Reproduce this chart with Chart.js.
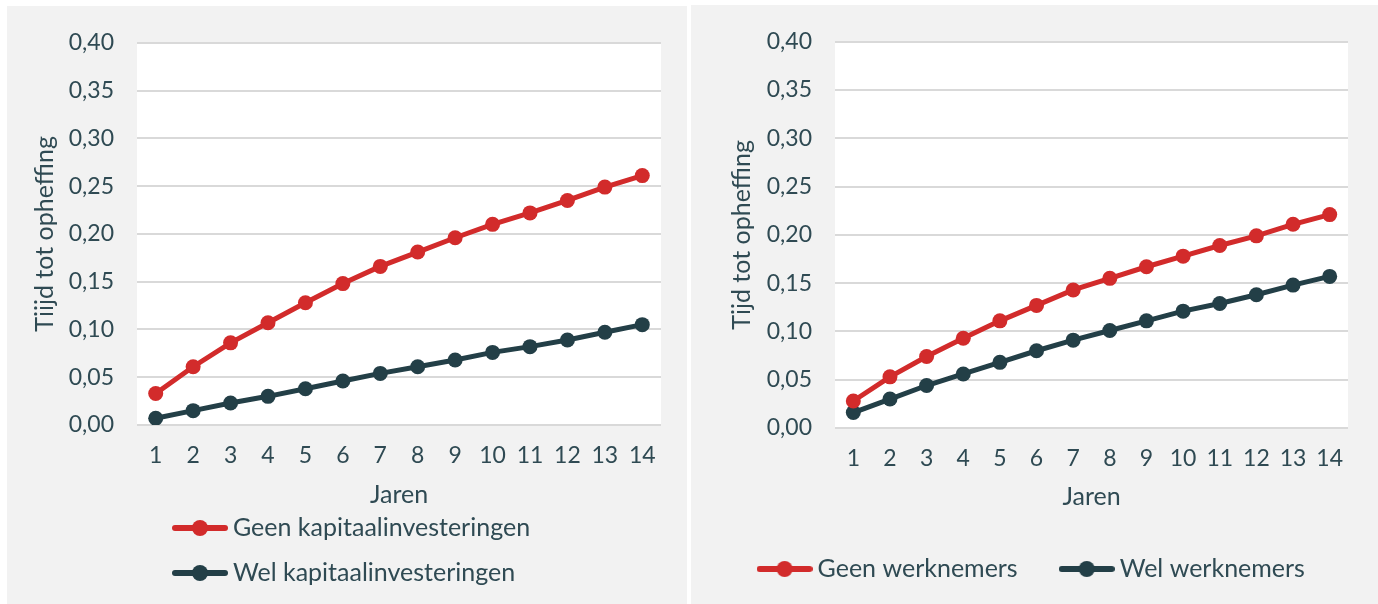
<!DOCTYPE html>
<html>
<head>
<meta charset="utf-8">
<script src="https://cdn.jsdelivr.net/npm/chart.js@4.4.1/dist/chart.umd.min.js"></script>
<style>
  body { margin: 0; background: #fff; width: 1378px; height: 604px; position: relative; overflow: hidden; }
  .panel { position: absolute; background: #f2f2f2; }
  #p1 { left: 7px; top: 6px; width: 680px; height: 598px; }
  #p2 { left: 691px; top: 5px; width: 687px; height: 599px; }
  canvas { display: block; }
</style>
</head>
<body>
<div class="panel" id="p1"><canvas id="c1" width="680" height="598"></canvas></div>
<div class="panel" id="p2"><canvas id="c2" width="687" height="599"></canvas></div>
<script>
const jaren = ['1', '2', '3', '4', '5', '6', '7', '8', '9', '10', '11', '12', '13', '14'];

const geenKapitaal = [0.033, 0.061, 0.086, 0.107, 0.128, 0.148, 0.166, 0.181, 0.196, 0.210, 0.222, 0.235, 0.249, 0.261];
const welKapitaal = [0.007, 0.015, 0.023, 0.030, 0.038, 0.046, 0.054, 0.061, 0.068, 0.076, 0.082, 0.089, 0.097, 0.105];

const geenWerknemers = [0.028, 0.053, 0.074, 0.093, 0.111, 0.127, 0.143, 0.155, 0.167, 0.178, 0.189, 0.199, 0.211, 0.221];
const welWerknemers = [0.016, 0.030, 0.044, 0.056, 0.068, 0.080, 0.091, 0.101, 0.111, 0.121, 0.129, 0.138, 0.148, 0.157];

const yTickLabels = ['0,00', '0,05', '0,10', '0,15', '0,20', '0,25', '0,30', '0,35', '0,40'];

const rood = '#d22b2b';
const donker = '#233f47';
const tekst = '#2f4a53';
const FONT = 'Lato, "Open Sans", sans-serif';

// klein plaatje voor de legenda: lijn met bolletje
function legendMarker(color) {
    const c = document.createElement('canvas');
    c.width = 56;
    c.height = 22;
    const g = c.getContext('2d');
    g.strokeStyle = color;
    g.lineWidth = 6;
    g.lineCap = 'round';
    g.beginPath();
    g.moveTo(3, 11);
    g.lineTo(53, 11);
    g.stroke();
    g.fillStyle = color;
    g.beginPath();
    g.arc(28, 11, 8, 0, Math.PI * 2);
    g.fill();
    return c;
}

// witte plotachtergrond
const plotBg = {
    id: 'plotBg',
    beforeDraw(chart) {
        const a = chart.chartArea;
        const ctx = chart.ctx;
        ctx.save();
        ctx.fillStyle = '#ffffff';
        ctx.fillRect(a.left, a.top, a.right - a.left, a.bottom - a.top);
        ctx.restore();
    }
};

// legenda op een vaste plek zetten
const legendPos = {
    id: 'legendPos',
    beforeDraw(chart, args, opts) {
        const lg = chart.legend;
        if (!lg) return;
        if (opts.left !== undefined) lg.left = opts.left;
        if (opts.right !== undefined) lg.right = opts.right;
        if (opts.top !== undefined) lg.top = opts.top;
        if (opts.bottom !== undefined) lg.bottom = opts.bottom;
        lg.width = lg.right - lg.left;
        lg.height = lg.bottom - lg.top;
    }
};

function makeChart(id, cfg) {
    const markers = [legendMarker(rood), legendMarker(donker)];
    return new Chart(document.getElementById(id), {
        type: 'line',
        data: {
            labels: jaren,
            datasets: [
                {
                    label: cfg.labels[0],
                    data: cfg.series[0],
                    borderColor: rood,
                    backgroundColor: rood,
                    pointBackgroundColor: rood,
                    borderWidth: 5,
                    pointRadius: 7.5,
                    pointBorderWidth: 0,
                    tension: 0
                },
                {
                    label: cfg.labels[1],
                    data: cfg.series[1],
                    borderColor: donker,
                    backgroundColor: donker,
                    pointBackgroundColor: donker,
                    borderWidth: 5,
                    pointRadius: 7.5,
                    pointBorderWidth: 0,
                    tension: 0
                }
            ]
        },
        options: {
            responsive: false,
            animation: false,
            devicePixelRatio: 1,
            layout: { padding: cfg.padding },
            scales: {
                x: {
                    offset: true,
                    grid: { display: false, drawTicks: false },
                    border: { display: false },
                    ticks: {
                        color: tekst,
                        font: { family: FONT, size: 23 },
                        padding: cfg.xTickPad,
                        autoSkip: false,
                        maxRotation: 0
                    },
                    title: {
                        display: true,
                        text: 'Jaren',
                        color: tekst,
                        font: { family: FONT, size: 25 },
                        padding: { top: 0, bottom: cfg.xTitlePad }
                    },
                    afterFit: s => { s.height = cfg.xHeight; }
                },
                y: {
                    min: 0,
                    max: 0.4,
                    grid: { color: '#d9d9d9', lineWidth: 2, drawTicks: false },
                    border: { display: false },
                    ticks: {
                        stepSize: 0.05,
                        color: tekst,
                        font: { family: FONT, size: 23 },
                        padding: 23,
                        callback: v => yTickLabels[Math.round(v / 0.05)]
                    },
                    title: {
                        display: true,
                        text: cfg.yTitle,
                        color: tekst,
                        font: { family: FONT, size: 25 },
                        padding: { top: cfg.yTitlePad, bottom: 0 }
                    },
                    afterFit: s => { s.width = cfg.yWidth; }
                }
            },
            plugins: {
                tooltip: { enabled: false },
                legend: {
                    position: cfg.legendPosition,
                    align: cfg.legendAlign,
                    labels: {
                        usePointStyle: true,
                        pointStyleWidth: 41,
                        padding: cfg.legendPad,
                        color: tekst,
                        font: { family: FONT, size: 25 },
                        generateLabels: chart => chart.data.datasets.map((ds, i) => ({
                            text: ds.label,
                            pointStyle: markers[i],
                            fontColor: tekst,
                            fillStyle: 'transparent',
                            strokeStyle: 'transparent',
                            lineWidth: 0,
                            hidden: false,
                            datasetIndex: i
                        }))
                    }
                },
                legendPos: cfg.legendAt
            }
        },
        plugins: [plotBg, legendPos]
    });
}

makeChart('c1', {
    labels: ['Geen kapitaalinvesteringen', 'Wel kapitaalinvesteringen'],
    series: [geenKapitaal, welKapitaal],
    yTitle: 'Tiijd tot opheffing',
    padding: { top: 35, right: 26, left: 0, bottom: 93 },
    yWidth: 130,
    xHeight: 86,
    xTickPad: 17,
    xTitlePad: 1,
    yTitlePad: 23,
    legendPosition: 'chartArea',
    legendAlign: 'start',
    legendPad: 20,
    legendAt: { left: 152.5, top: 489.5, right: 680, bottom: 700 }
});

makeChart('c2', {
    labels: ['Geen werknemers', 'Wel werknemers'],
    series: [geenWerknemers, welWerknemers],
    yTitle: 'Tijd tot opheffing',
    padding: { top: 29, right: 30, left: 0, bottom: 8.5 },
    yWidth: 144,
    xHeight: 84,
    xTickPad: 17,
    xTitlePad: 0,
    yTitlePad: 35.5,
    legendPosition: 'bottom',
    legendAlign: 'center',
    legendPad: 48.5,
    legendAt: { left: 0, right: 687, top: 503, bottom: 599 }
});
</script>
</body>
</html>
